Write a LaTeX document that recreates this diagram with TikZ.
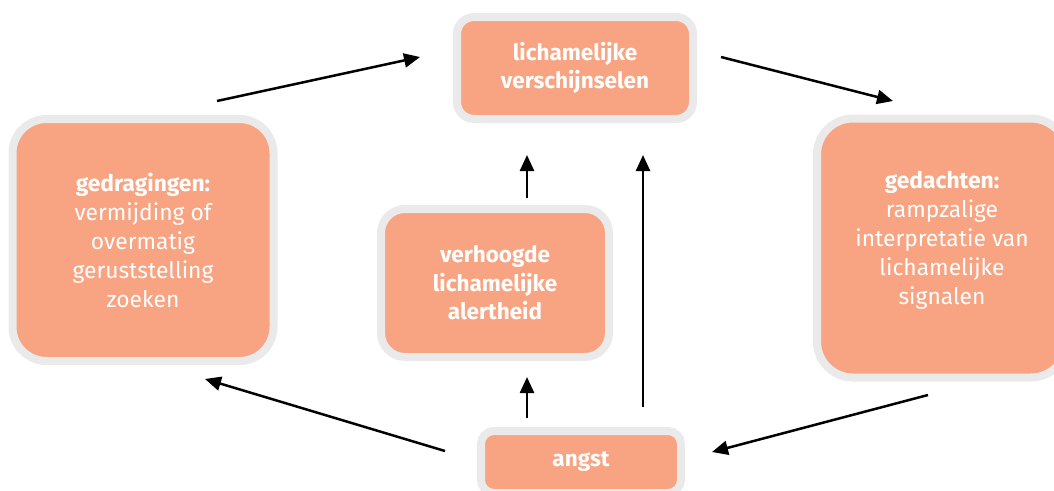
\documentclass[tikz,border=0pt]{standalone}
\usepackage{fontspec}
\setmainfont{Fira Sans}
\usetikzlibrary{arrows.meta}
\definecolor{salmon}{HTML}{F8A482}
\definecolor{rim}{HTML}{EAEAEA}
\tikzset{
  box/.style={rectangle, draw=rim, line width=8pt, fill=salmon, text=white, align=center, font=\fontsize{22.8}{29}\selectfont, inner sep=0pt},
  txt/.style={text=white, align=center, font=\fontsize{22.8}{29}\selectfont, inner sep=0pt},
  arr/.style={line width=2.5pt, -{Triangle[length=16pt,width=14pt]}}
}
\begin{document}
\begin{tikzpicture}[x=1pt,y=-1pt]
\useasboundingbox (0,0) rectangle (1054,490);
\begin{scope}
\clip (0,0) rectangle (1054,490);
\node[box, minimum width=236pt, minimum height=102pt, rounded corners=17pt, font=\bfseries\fontsize{22.5}{28}\selectfont] (lich) at (575,68) {lichamelijke\\verschijnselen};
\node[box, minimum width=261pt, minimum height=242pt, rounded corners=34pt] (gedr) at (143,240) {\textbf{gedragingen:}\\vermijding of\\overmatig\\geruststelling\\zoeken};
\node[box, minimum width=250pt, minimum height=259pt, rounded corners=36pt] (gedach) at (942,248) {};
\node[txt] (gedachtxt) at (942,240) {\textbf{gedachten:}\\rampzalige\\interpretatie van\\lichamelijke\\signalen};
\node[box, minimum width=228pt, minimum height=148pt, rounded corners=24pt, font=\bfseries\fontsize{22.5}{28.5}\selectfont] (alert) at (495,283) {verhoogde\\lichamelijke\\alertheid};
\node[box, minimum width=200pt, minimum height=62pt, rounded corners=13pt, font=\bfseries\fontsize{22.5}{28}\selectfont] (angst) at (581,462) {angst};
\end{scope}
\coordinate (a1s) at (217,101); \coordinate (a1e) at (420,57);
\coordinate (a2s) at (721,57); \coordinate (a2e) at (893,101);
\coordinate (a3s) at (928,395); \coordinate (a3e) at (712,452);
\coordinate (a4s) at (445,451); \coordinate (a4e) at (205,379);
\coordinate (v1s) at (527,198); \coordinate (v1e) at (527,155);
\coordinate (v2s) at (527,418); \coordinate (v2e) at (527,377);
\coordinate (v3s) at (643,407); \coordinate (v3e) at (643,155);
\draw[arr] (a1s) -- (a1e);
\draw[arr] (a2s) -- (a2e);
\draw[arr] (a3s) -- (a3e);
\draw[arr] (a4s) -- (a4e);
\draw[arr] (v1s) -- (v1e);
\draw[arr] (v2s) -- (v2e);
\draw[arr] (v3s) -- (v3e);
\end{tikzpicture}
\end{document}
